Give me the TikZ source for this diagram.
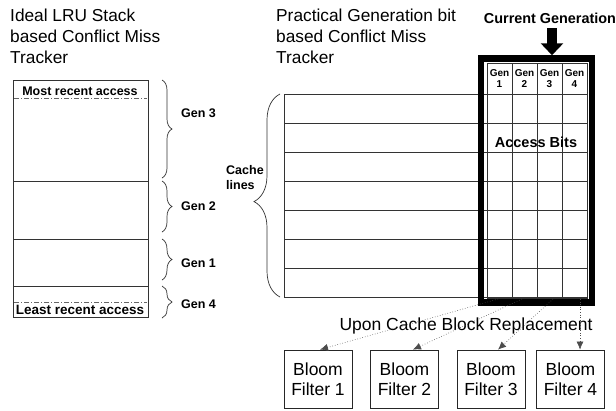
\documentclass[tikz,border=0pt]{standalone}
\usepackage{fontspec}
\setmainfont{Liberation Sans}
\usetikzlibrary{arrows.meta,decorations.pathreplacing,calc}
\begin{document}
\begin{tikzpicture}[x=1pt,y=-1pt,
  title/.style={font=\fontsize{17.3}{21}\selectfont, align=left, anchor=north west, inner sep=0},
  lbl/.style={font=\bfseries\fontsize{12.5}{15}\selectfont, inner sep=0},
  gridline/.style={draw=black!80, line width=0.8pt},
  dashdotline/.style={draw=black!60, line width=0.8pt, dash pattern=on 5pt off 2pt on 1pt off 2pt},
  bracel/.style={draw=black!80, line width=0.7pt, decorate, decoration={brace, amplitude=10pt}},
  bloom/.style={draw=black!85, line width=0.8pt, minimum width=68pt, minimum height=58pt, inner sep=0, align=center, font=\fontsize{17.5}{20}\selectfont},
  hdr/.style={font=\bfseries\fontsize{10}{11}\selectfont, align=center, inner sep=0},
  repl/.style={draw=black!70, line width=0.6pt, dotted, -{Latex[length=8pt,width=7pt]}}]
\useasboundingbox (0,0) rectangle (616,410);
\fill[white] (0,0) rectangle (616,410);

% titles
\node[title] (t1) at (10,9) {Ideal LRU Stack\\based Conflict Miss\\Tracker};
\node[title] (t2) at (276,9) {Practical Generation bit\\based Conflict Miss\\Tracker};

% LRU stack
\node[draw=black!80, line width=0.9pt, minimum width=135pt, minimum height=237pt, inner sep=0] (stack) at (80.5,198.5) {};
\draw[gridline] (13,181) -- (148,181);
\draw[gridline] (13,239) -- (148,239);
\draw[gridline] (13,286) -- (148,286);
\draw[dashdotline] (14,98) -- (147,98);
\draw[dashdotline] (14,302) -- (147,302);
\node[lbl] (mra) at (80,91.5) {Most recent access};
\node[lbl, font=\bfseries\fontsize{13.5}{15}\selectfont] (lra) at (80,310) {Least recent access};

% gen braces
\draw[bracel] (162,80) -- (162,178);
\draw[bracel] (162,181) -- (162,232);
\draw[bracel] (162,239) -- (162,280);
\draw[bracel] (162,286) -- (162,318);
\node[lbl, anchor=west] (g3) at (181,113) {Gen 3};
\node[lbl, anchor=west] (g2) at (181,206.5) {Gen 2};
\node[lbl, anchor=west] (g1) at (181,263) {Gen 1};
\node[lbl, anchor=west] (g4) at (181,304) {Gen 4};

% cache lines grid
\foreach \yy in {94,123,152,181,210,239,268,297}
  \draw[gridline] (284,\yy) -- (587,\yy);
\draw[gridline] (284,94) -- (284,297);
\draw[gridline] (487,63) rectangle (587,298);
\foreach \xx in {512,537,562}
  \draw[gridline] (\xx,63) -- (\xx,298);

% generation frame
\node[draw=black, line width=6.5pt, minimum width=111pt, minimum height=244pt, inner sep=0] (frame) at (536.5,180.5) {};

% headers
\node[hdr] (h1) at (499.5,79) {Gen\\1};
\node[hdr] (h2) at (524.5,79) {Gen\\2};
\node[hdr] (h3) at (549.5,79) {Gen\\3};
\node[hdr] (h4) at (574.5,79) {Gen\\4};
\node[lbl, font=\bfseries\fontsize{14.5}{16}\selectfont] (ab) at (536,142) {Access Bits};

% cache lines brace
\draw[draw=black!80, line width=0.7pt, decorate, decoration={brace, amplitude=26pt, aspect=0.47}] (280,297) -- (280,94);
\node[lbl, align=left, anchor=west] (cl) at (226,178) {Cache\\lines};

% current generation
\node[font=\bfseries\fontsize{14.4}{16}\selectfont, inner sep=0] (cg) at (550,18) {Current Generation};
\coordinate (ca) at (552,28);
\draw[line width=10pt, -{Triangle[length=12pt,width=22pt]}] (ca) -- (ca |- frame.north);

% replacement
\node[font=\fontsize{17.5}{20}\selectfont, inner sep=0] (up) at (466,326) {Upon Cache Block Replacement};

% bloom filters
\node[bloom] (b1) at (318,379) {Bloom\\Filter 1};
\node[bloom] (b2) at (404.5,379) {Bloom\\Filter 2};
\node[bloom] (b3) at (491,379) {Bloom\\Filter 3};
\node[bloom] (b4) at (570.5,379) {Bloom\\Filter 4};

\coordinate (s1) at (498,299);
\coordinate (s2) at (522,299);
\coordinate (s3) at (553,299);
\coordinate (s4) at (580,299);
\draw[repl] (s1) -- ([xshift=2pt]b1.north);
\draw[repl] (s2) -- ([xshift=8.5pt]b2.north);
\draw[repl] (s3) -- ([xshift=7pt]b3.north);
\draw[repl] (s4) -- ([xshift=9.5pt]b4.north);
\end{tikzpicture}
\end{document}
